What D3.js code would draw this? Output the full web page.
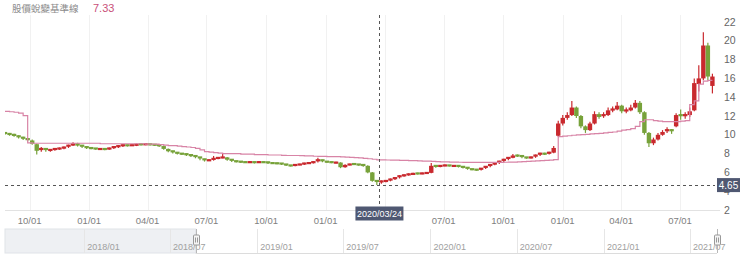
<!DOCTYPE html>
<html>
<head>
<meta charset="utf-8">
<script src="https://cdn.jsdelivr.net/npm/d3@7"></script>
<style>
    body{ margin:0; background:#fff; }
    text{ font-family:"Liberation Sans", Arial, sans-serif; }
    .title{ font-family:"Noto Sans CJK TC", sans-serif; }
</style>
</head>
<body>
<svg id="chart" width="740" height="271"></svg>
<script>
// weekly candles (one per Friday)
var firstWeek = new Date(2018, 7, 24), lastWeek = new Date(2021, 7, 20);
var weeks = d3.timeFriday.range(firstWeek, d3.timeDay.offset(lastWeek, 1));

var opens = [10.2,10.1,10.0,9.85,9.7,9.55,9.4,9.0,8.3,8.5,8.3,8.4,8.5,8.55,8.65,8.85,9.1,8.85,8.7,8.6,
    8.55,8.45,8.5,8.45,8.55,8.7,8.8,8.9,8.85,8.9,9.0,8.95,9.0,8.95,8.9,8.8,8.5,8.25,8.1,8.0,
    7.95,7.85,7.75,7.6,7.4,7.25,7.3,7.45,7.55,7.6,7.35,7.2,7.15,7.1,7.05,7.1,7.05,7.1,7.08,7.0,
    6.98,6.95,6.85,6.75,6.7,6.8,6.85,6.95,7.0,7.1,7.3,7.15,7.1,7.0,7.05,6.55,6.8,6.9,6.85,6.8,
    6.7,6.0,5.1,4.9,5.05,5.1,5.25,5.4,5.6,5.7,5.8,5.9,5.85,5.9,5.95,6.7,6.6,6.7,6.75,6.65,
    6.7,6.6,6.5,6.35,6.3,6.25,6.4,6.6,6.8,6.95,7.15,7.35,7.55,7.8,7.75,7.6,7.55,7.6,7.8,8.0,
    7.95,8.1,9.9,11.2,11.8,12.1,12.9,12.0,10.9,10.5,11.2,12.2,11.9,12.1,12.6,12.7,13.1,12.5,12.6,12.9,
    13.4,12.4,10.2,9.1,9.5,10.0,10.3,10.5,10.9,12.1,11.9,12.1,12.6,15.4,16.0,19.5,15.2];
var highs = [10.3,10.2,10.1,9.95,9.8,9.65,9.5,9.05,8.7,8.6,8.5,8.6,8.65,8.75,8.95,9.2,9.15,8.9,8.8,8.7,
    8.6,8.6,8.6,8.65,8.8,8.9,9.0,8.95,9.0,9.05,9.1,9.1,9.05,9.0,8.95,8.85,8.55,8.3,8.15,8.05,
    8.0,7.9,7.8,7.65,7.45,7.4,7.75,7.65,8.05,7.65,7.4,7.25,7.2,7.15,7.2,7.15,7.2,7.15,7.12,7.05,
    7.05,7.0,6.9,6.8,6.88,6.92,7.02,7.08,7.18,7.55,7.35,7.2,7.15,7.12,7.08,6.88,6.92,6.95,6.9,6.85,
    6.75,6.05,5.2,5.15,5.2,5.35,5.5,5.7,5.8,5.9,5.95,5.95,6.0,6.05,7.0,6.75,6.8,6.85,6.8,6.78,
    6.75,6.65,6.55,6.4,6.35,6.48,6.68,6.88,7.05,7.25,7.45,7.65,7.95,7.9,7.8,7.65,7.7,7.9,8.1,8.1,
    8.2,8.8,11.5,12.1,12.4,13.6,13.0,12.1,11.0,11.4,12.5,12.4,12.4,12.9,13.0,13.5,13.2,12.9,13.2,13.7,
    13.6,12.5,10.3,9.7,10.2,10.5,10.8,10.6,12.3,12.7,12.4,12.9,16.0,17.4,20.9,19.8,16.5];
var lows = [10.0,9.9,9.8,9.6,9.45,9.3,8.95,7.9,8.2,8.2,8.2,8.3,8.4,8.45,8.6,8.8,8.75,8.6,8.5,8.45,
    8.4,8.4,8.35,8.4,8.5,8.6,8.7,8.75,8.8,8.8,8.85,8.9,8.85,8.8,8.7,8.4,8.15,8.0,7.9,7.85,
    7.75,7.65,7.5,7.3,7.15,7.2,7.25,7.4,7.5,7.25,7.1,7.05,7.0,7.0,7.0,6.95,7.0,7.0,6.9,6.9,
    6.88,6.78,6.68,6.62,6.65,6.75,6.8,6.9,6.95,7.05,7.08,7.02,6.98,6.95,6.45,6.5,6.75,6.78,6.72,6.6,
    5.9,5.0,4.65,4.8,4.95,5.05,5.2,5.35,5.55,5.65,5.75,5.78,5.8,5.85,5.9,6.5,6.55,6.65,6.62,6.6,
    6.52,6.42,6.28,6.22,6.18,6.2,6.35,6.55,6.75,6.9,7.1,7.3,7.5,7.65,7.5,7.45,7.48,7.55,7.75,7.85,
    7.9,8.05,9.8,11.0,11.6,12.0,11.8,10.7,10.2,10.4,11.1,11.7,11.8,12.0,12.4,12.6,12.3,12.3,12.5,12.8,
    12.2,10.0,8.7,8.9,9.4,9.9,10.2,10.1,10.8,11.6,11.7,11.9,12.5,14.6,15.8,15.8,14.4];
var closes = [10.1,10.0,9.85,9.7,9.55,9.4,9.05,8.3,8.5,8.3,8.4,8.5,8.55,8.65,8.85,9.1,8.85,8.7,8.6,8.55,
    8.5,8.5,8.45,8.55,8.7,8.8,8.9,8.85,8.9,8.95,8.95,9.0,8.95,8.9,8.8,8.5,8.25,8.1,8.0,7.95,
    7.85,7.75,7.6,7.4,7.25,7.3,7.45,7.55,7.6,7.35,7.2,7.15,7.1,7.07,7.1,7.05,7.1,7.08,7.0,6.98,
    6.95,6.85,6.75,6.7,6.8,6.85,6.95,7.0,7.1,7.3,7.15,7.1,7.05,7.05,6.55,6.8,6.85,6.85,6.8,6.7,
    6.0,5.1,4.9,5.05,5.1,5.25,5.4,5.6,5.7,5.8,5.85,5.85,5.9,5.95,6.7,6.6,6.7,6.75,6.7,6.7,
    6.6,6.5,6.35,6.3,6.25,6.4,6.6,6.8,6.95,7.15,7.35,7.55,7.8,7.75,7.6,7.55,7.6,7.8,8.0,7.95,
    8.1,8.6,11.2,11.8,12.1,12.9,12.0,10.9,10.5,11.2,12.2,11.9,12.1,12.6,12.7,13.1,12.5,12.6,12.9,13.4,
    12.4,10.2,9.1,9.5,10.0,10.3,10.5,10.3,12.1,11.9,12.1,12.5,15.5,16.0,19.5,16.2,16.2];

// 股價蛻變基準線
var baseline = [12.5,12.45,12.4,12.3,12.05,9.15,9.1,9.1,9.1,9.1,9.1,9.1,9.1,9.1,9.1,9.1,9.1,9.1,9.1,9.1,
    9.1,9.05,9.05,9.05,9.05,9.05,9.05,9.05,9.05,9.05,9.05,9.0,9.0,9.0,8.95,8.9,8.85,8.85,8.8,8.75,
    8.7,8.65,8.55,8.4,8.2,8.15,8.1,8.05,8.0,8.0,8.0,8.0,7.95,7.95,7.95,7.9,7.9,7.9,7.85,7.85,
    7.85,7.82,7.8,7.8,7.8,7.78,7.75,7.75,7.72,7.7,7.7,7.68,7.68,7.67,7.65,7.62,7.6,7.58,7.55,7.5,
    7.45,7.4,7.33,7.33,7.32,7.3,7.3,7.28,7.27,7.25,7.25,7.22,7.2,7.2,7.17,7.15,7.13,7.12,7.1,7.1,
    7.08,7.07,7.07,7.07,7.07,7.06,7.06,7.06,7.06,7.07,7.08,7.1,7.1,7.12,7.15,7.17,7.2,7.22,7.25,7.28,
    7.3,7.35,9.8,9.85,9.9,9.95,10.0,10.02,10.05,10.1,10.12,10.15,10.2,10.25,10.3,10.4,10.5,10.55,10.65,10.9,
    11.4,11.6,11.6,11.5,11.45,11.4,11.4,11.4,11.4,11.45,11.5,13.2,13.6,15.4,15.7,15.8,15.8];

var yTicks = [2,4,6,8,10,12,14,16,18,20,22];
var titleText = "股價蛻變基準線";
var hoverDate = new Date(2020, 2, 24), hoverPrice = 4.65, hoverBase = 7.33;

var viewStart = new Date(2018, 7, 24), viewEnd = new Date(2021, 7, 24);
var navStart = new Date(2017, 6, 18), navEnd = new Date(2021, 7, 27);

var upColor = "#c9292e", downColor = "#77a23a", baseColor = "#d884a6", tagColor = "#4f5872";

var svg = d3.select("#chart");
var plotLeft = 5, plotRight = 715, plotTop = 15, plotBottom = 210;

var x = d3.scaleTime().domain([viewStart, viewEnd]).range([plotLeft, plotRight]);
var y = d3.scaleLinear().domain([2, 22]).range([plotBottom, 22]);

var candles = weeks.map(function(d, i){
    return { date: d, o: opens[i], h: highs[i], l: lows[i], c: closes[i], b: baseline[i] };
});

var cx = x(hoverDate);

// header
svg.append("text").attr("class", "title")
    .attr("x", 12).attr("y", 11.5)
    .attr("font-size", 9.5).attr("fill", "#8a8a8a")
    .text(titleText);
svg.append("text")
    .attr("x", 93).attr("y", 12)
    .attr("font-size", 11).attr("fill", "#c9507a")
    .text(hoverBase.toFixed(2));

// grid
var xTicks = x.ticks(d3.timeMonth.every(3));
svg.append("g").selectAll("line")
    .data(xTicks).enter().append("line")
    .attr("x1", function(d){ return Math.round(x(d)) + .5; })
    .attr("x2", function(d){ return Math.round(x(d)) + .5; })
    .attr("y1", plotTop).attr("y2", plotBottom)
    .attr("stroke", "#f1f1f1");

svg.append("line")
    .attr("x1", plotLeft).attr("x2", 720)
    .attr("y1", plotBottom + .5).attr("y2", plotBottom + .5)
    .attr("stroke", "#e2e2e2");

var fmtTick = d3.timeFormat("%m/%d");
svg.append("g").selectAll("text")
    .data(xTicks.filter(function(d){ return Math.abs(x(d) - cx) > 30; }))
    .enter().append("text")
    .attr("x", function(d){ return x(d); })
    .attr("y", 223.5)
    .attr("text-anchor", "middle")
    .attr("font-size", 9.5).attr("fill", "#808080")
    .text(fmtTick);

svg.append("g").selectAll("text")
    .data(yTicks).enter().append("text")
    .attr("x", 724).attr("y", function(d){ return y(d); })
    .attr("dy", "0.35em")
    .attr("font-size", 10.5).attr("fill", "#666")
    .text(function(d){ return d; });

// candles
svg.append("defs").append("clipPath").attr("id", "plot")
    .append("rect").attr("x", plotLeft).attr("y", plotTop)
    .attr("width", plotRight - plotLeft + 3).attr("height", plotBottom - plotTop);

var plot = svg.append("g").attr("clip-path", "url(#plot)");

function candleColor(d){ return d.c >= d.o ? upColor : downColor; }

plot.append("g").selectAll("line")
    .data(candles).enter().append("line")
    .attr("x1", function(d){ return x(d.date); })
    .attr("x2", function(d){ return x(d.date); })
    .attr("y1", function(d){ return y(d.h); })
    .attr("y2", function(d){ return y(d.l); })
    .attr("stroke", candleColor)
    .attr("stroke-width", 1.2);

plot.append("g").selectAll("rect")
    .data(candles).enter().append("rect")
    .attr("x", function(d){ return x(d.date) - 2.2; })
    .attr("width", 4.4)
    .attr("y", function(d){ return y(Math.max(d.o, d.c)) - (Math.abs(y(d.o) - y(d.c)) < 2.2 ? 1 : 0); })
    .attr("height", function(d){ return Math.max(2.2, Math.abs(y(d.o) - y(d.c))); })
    .attr("fill", candleColor);

var baseLine = d3.line()
    .x(function(d){ return x(d.date); })
    .y(function(d){ return y(d.b); })
    .curve(d3.curveStepAfter);

plot.append("path")
    .datum(candles)
    .attr("d", baseLine)
    .attr("fill", "none")
    .attr("stroke", baseColor)
    .attr("stroke-width", 1.2);

// crosshair
svg.append("line")
    .attr("x1", Math.round(cx) + .5).attr("x2", Math.round(cx) + .5)
    .attr("y1", plotTop).attr("y2", plotBottom)
    .attr("stroke", "#555").attr("stroke-dasharray", "3,3");
svg.append("line")
    .attr("x1", plotLeft).attr("x2", plotRight)
    .attr("y1", Math.round(y(hoverPrice)) + .5).attr("y2", Math.round(y(hoverPrice)) + .5)
    .attr("stroke", "#555").attr("stroke-dasharray", "3,3");

var fmtHover = d3.timeFormat("%Y/%m/%d");
svg.append("rect")
    .attr("x", cx - 24).attr("y", 206.5).attr("width", 48).attr("height", 14)
    .attr("fill", tagColor);
svg.append("text")
    .attr("x", cx).attr("y", 217)
    .attr("text-anchor", "middle")
    .attr("font-size", 9).attr("fill", "#fff")
    .text(fmtHover(hoverDate));

svg.append("rect")
    .attr("x", 717).attr("y", y(hoverPrice) - 7).attr("width", 23).attr("height", 14)
    .attr("fill", tagColor);
svg.append("text")
    .attr("x", 728.5).attr("y", y(hoverPrice) + 3.5)
    .attr("text-anchor", "middle")
    .attr("font-size", 10).attr("fill", "#fff")
    .text(hoverPrice.toFixed(2));

// navigator
var nx = d3.scaleTime().domain([navStart, navEnd]).range([plotLeft, 717]);
var navTop = 229, navBottom = 253;
var nav = svg.append("g");

var navTicks = nx.ticks(d3.timeMonth.every(6));
nav.append("rect")
    .attr("x", plotLeft).attr("y", navTop)
    .attr("width", nx(viewStart) - plotLeft).attr("height", navBottom - navTop)
    .attr("fill", "#eef0f3").attr("stroke", "#e0e3e8");

nav.selectAll("line.grid")
    .data(navTicks).enter().append("line")
    .attr("class", "grid")
    .attr("x1", function(d){ return Math.round(nx(d)) + .5; })
    .attr("x2", function(d){ return Math.round(nx(d)) + .5; })
    .attr("y1", navTop).attr("y2", navBottom)
    .attr("stroke", "#e6e6e6");

nav.append("line")
    .attr("x1", nx(viewStart)).attr("x2", 717)
    .attr("y1", navBottom + .5).attr("y2", navBottom + .5)
    .attr("stroke", "#dcdcdc");

var fmtNav = d3.timeFormat("%Y/%m");
nav.selectAll("text")
    .data(navTicks).enter().append("text")
    .attr("x", function(d){ return nx(d) + 3; })
    .attr("y", 250)
    .attr("font-size", 9).attr("fill", "#a0a0a0")
    .text(fmtNav);

[viewStart, navEnd].forEach(function(d){
    var hx = Math.round(nx(d)) + .5;
    nav.append("line")
        .attr("x1", hx).attr("x2", hx)
        .attr("y1", navTop).attr("y2", navBottom)
        .attr("stroke", "#b8b8b8");
    nav.append("rect")
        .attr("x", hx - 3).attr("y", 235).attr("width", 6).attr("height", 10).attr("rx", 1)
        .attr("fill", "#f4f4f4").attr("stroke", "#999");
    nav.append("line")
        .attr("x1", hx - 1).attr("x2", hx - 1).attr("y1", 237.5).attr("y2", 242.5)
        .attr("stroke", "#999");
    nav.append("line")
        .attr("x1", hx + 1).attr("x2", hx + 1).attr("y1", 237.5).attr("y2", 242.5)
        .attr("stroke", "#999");
});
</script>
</body>
</html>
